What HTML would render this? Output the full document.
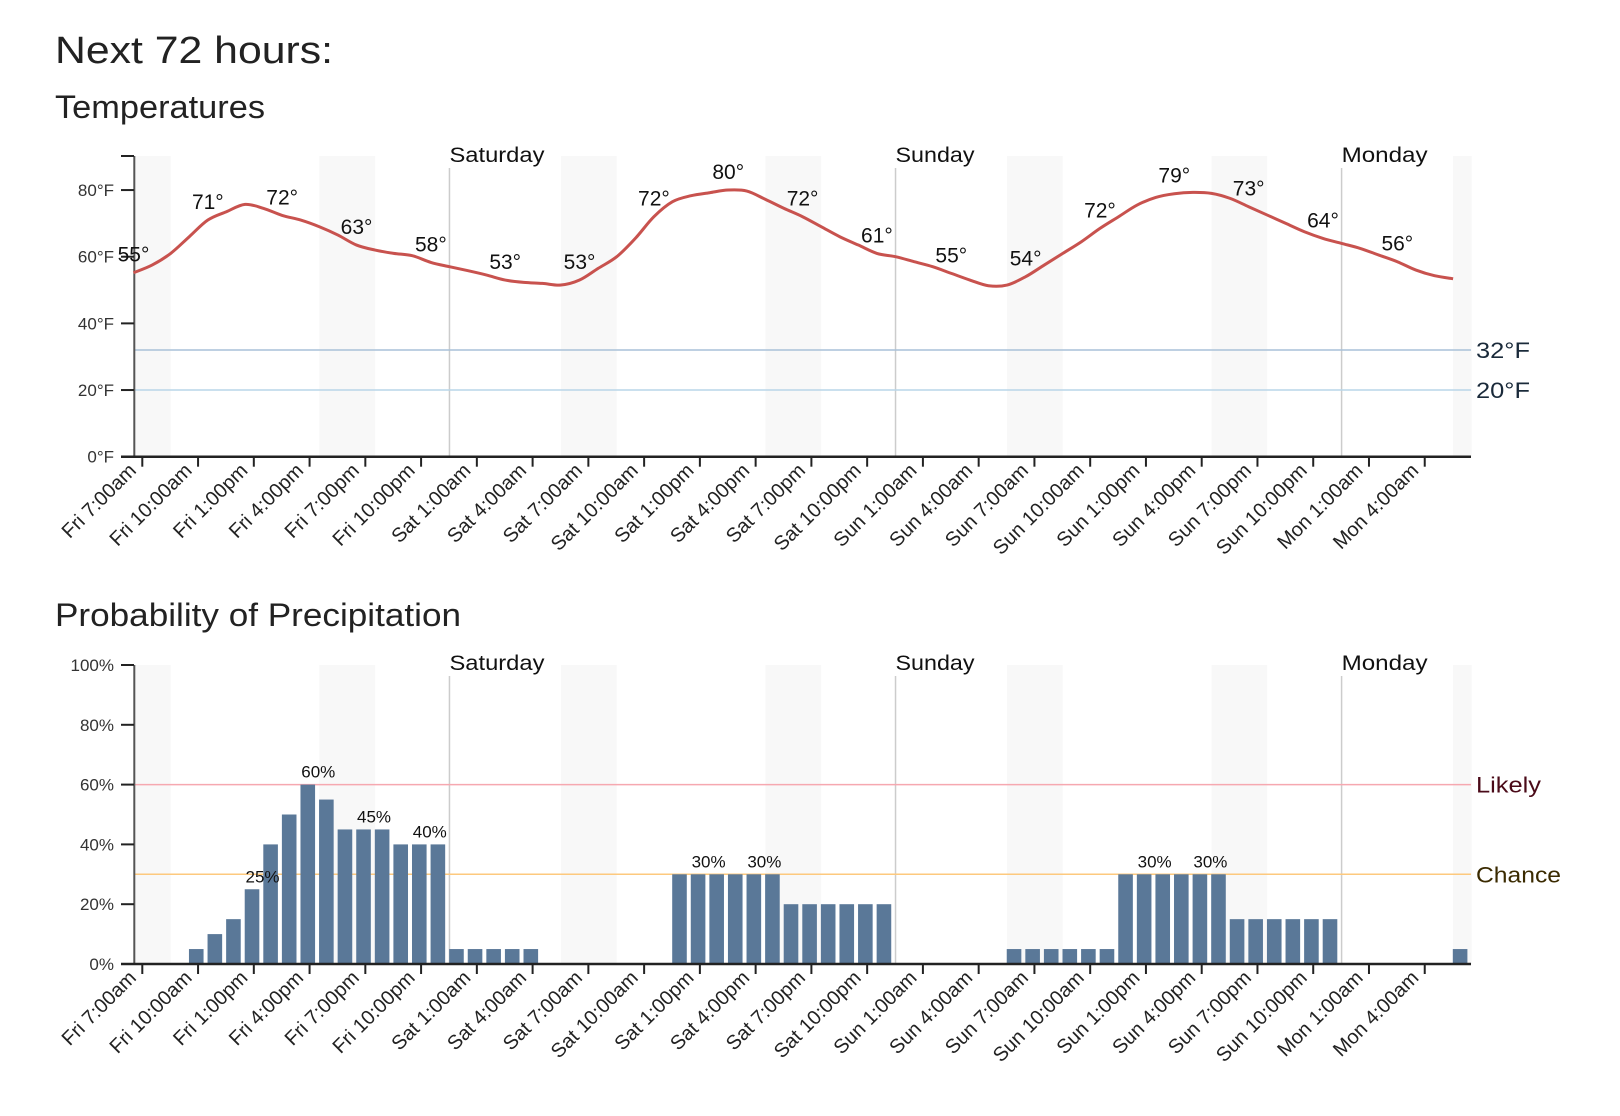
<!DOCTYPE html>
<html><head><meta charset="utf-8"><style>
body{margin:0;background:#fff;}
svg{display:block;font-family:"Liberation Sans",sans-serif;}
</style></head><body>
<svg id="s" width="1620" height="1116" xmlns="http://www.w3.org/2000/svg">
<text x="55" y="63" font-size="38" fill="#222" textLength="278" lengthAdjust="spacingAndGlyphs">Next 72 hours:</text>
<text x="55" y="118" font-size="32" fill="#222" textLength="210" lengthAdjust="spacingAndGlyphs">Temperatures</text>
<text x="55" y="626" font-size="32" fill="#222" textLength="406" lengthAdjust="spacingAndGlyphs">Probability of Precipitation</text>
</svg>
<script>
var s=document.getElementById('s'),NS='http://www.w3.org/2000/svg';
function el(t,a,txt){var e=document.createElementNS(NS,t);for(var k in a)e.setAttribute(k,a[k]);if(txt!==undefined)e.textContent=txt;s.appendChild(e);return e;}
var X0=133.5,W=18.586;
function sx(k){return X0+W*k;}
var bands=[[0,2],[10,13],[23,26],[34,37],[47,50],[58,61],[71,72]];
var mids=[[17,'Saturday',95],[41,'Sunday',79],[65,'Monday',86]];
var ticks=['Fri 7:00am','Fri 10:00am','Fri 1:00pm','Fri 4:00pm','Fri 7:00pm','Fri 10:00pm','Sat 1:00am','Sat 4:00am','Sat 7:00am','Sat 10:00am','Sat 1:00pm','Sat 4:00pm','Sat 7:00pm','Sat 10:00pm','Sun 1:00am','Sun 4:00am','Sun 7:00am','Sun 10:00am','Sun 1:00pm','Sun 4:00pm','Sun 7:00pm','Sun 10:00pm','Mon 1:00am','Mon 4:00am'];
function frame(top,bot,dayY,lineTop){
  bands.forEach(function(b){el('rect',{x:sx(b[0]),y:top,width:(b[1]-b[0])*W,height:bot-top,fill:'#f8f8f8'});});
  mids.forEach(function(m){el('line',{x1:sx(m[0]),x2:sx(m[0]),y1:lineTop,y2:bot,stroke:'#ccc','stroke-width':1.5});
    el('text',{x:sx(m[0]),y:dayY,'font-size':21,fill:'#111',textLength:m[2],lengthAdjust:'spacingAndGlyphs'},m[1]);});
}
function axes(top,bot){
  el('line',{x1:134.3,x2:134.3,y1:top,y2:bot,stroke:'#555','stroke-width':2});
  el('line',{x1:121,x2:1471,y1:bot,y2:bot,stroke:'#222','stroke-width':2.5});
  ticks.forEach(function(t,i){var x=142.3+W*3*i;
    el('line',{x1:x,x2:x,y1:bot,y2:bot+10,stroke:'#222','stroke-width':2});
    el('text',{x:x-5,y:bot+15,'font-size':20,fill:'#222','text-anchor':'end',transform:'rotate(-45 '+(x-5)+' '+(bot+15)+')'},t);});
}
var TB=456.7,TS=3.333;function ty(T){return TB-TS*T;}
frame(156,TB,162,168);
el('line',{x1:134,x2:1471,y1:ty(32),y2:ty(32),stroke:'#a9c1d8','stroke-width':1.5});
el('line',{x1:134,x2:1471,y1:ty(20),y2:ty(20),stroke:'#b9d6e8','stroke-width':1.5});
el('text',{x:1476,y:ty(32)+8,'font-size':22,fill:'#1a2a3a',textLength:54,lengthAdjust:'spacingAndGlyphs'},'32°F');
el('text',{x:1476,y:ty(20)+8,'font-size':22,fill:'#1a2a3a',textLength:54,lengthAdjust:'spacingAndGlyphs'},'20°F');
axes(156,TB);
[0,20,40,60,80].forEach(function(v){var y=ty(v);el('line',{x1:121,x2:134,y1:y,y2:y,stroke:'#222','stroke-width':2});
  el('text',{x:114,y:y+6,'font-size':17,fill:'#333','text-anchor':'end'},v+'°F');});
el('line',{x1:121,x2:134,y1:156,y2:156,stroke:'#222','stroke-width':2});
var T=[55.2,57.5,61,66,71,73.5,75.7,74.5,72.4,71,69,66.5,63.5,62,61,60.3,58.3,57,55.8,54.5,53,52.3,52,51.5,53,56.5,60,65.5,72,76.5,78.3,79.2,80,79.7,77.2,74.5,72,69,66,63.5,61,60,58.5,57,55,53,51.3,51.5,54,57.5,61,64.5,68.5,72,75.5,77.8,78.9,79.3,79,77.5,75,72.5,70,67.5,65.5,64,62.5,60.5,58.5,56,54.3,53.4];
var P=T.map(function(v,k){return [sx(k),ty(v)];});
var d='M'+P[0][0]+','+P[0][1];
for(var i=0;i<P.length-1;i++){var p0=P[Math.max(i-1,0)],p1=P[i],p2=P[i+1],p3=P[Math.min(i+2,P.length-1)];
  d+=' C'+(p1[0]+(p2[0]-p0[0])/6)+','+(p1[1]+(p2[1]-p0[1])/6)+' '+(p2[0]-(p3[0]-p1[0])/6)+','+(p2[1]-(p3[1]-p1[1])/6)+' '+p2[0]+','+p2[1];}
el('path',{d:d,fill:'none',stroke:'#c8524e','stroke-width':3});
var lab=[55,71,72,63,58,53,53,72,80,72,61,55,54,72,79,73,64,56];
lab.forEach(function(v,m){var k=m*4;el('text',{x:sx(k),y:ty(T[k])-11,'font-size':21,fill:'#111','text-anchor':'middle'},v+'°');});
var PB=964,PS=2.99;function py(v){return PB-PS*v;}
frame(665,PB,670,676);
el('line',{x1:134,x2:1471,y1:py(60),y2:py(60),stroke:'#f6a8b0','stroke-width':1.5});
el('line',{x1:134,x2:1471,y1:py(30),y2:py(30),stroke:'#fdc97e','stroke-width':1.5});
el('text',{x:1476,y:py(60)+8,'font-size':22,fill:'#4a0a18',textLength:65,lengthAdjust:'spacingAndGlyphs'},'Likely');
el('text',{x:1476,y:py(30)+8,'font-size':22,fill:'#3a2a00',textLength:85,lengthAdjust:'spacingAndGlyphs'},'Chance');
var B=[0,0,0,5,10,15,25,40,50,60,55,45,45,45,40,40,40,5,5,5,5,5,0,0,0,0,0,0,0,30,30,30,30,30,30,20,20,20,20,20,20,0,0,0,0,0,0,5,5,5,5,5,5,30,30,30,30,30,30,15,15,15,15,15,15,0,0,0,0,0,0,5];
B.forEach(function(v,k){if(v>0)el('rect',{x:sx(k)-0.3,y:py(v),width:14.6,height:PS*v,fill:'#5a7898'});});
[[6,25],[9,60],[12,45],[15,40],[30,30],[33,30],[54,30],[57,30]].forEach(function(a){
  el('text',{x:sx(a[0])+17.5,y:py(B[a[0]])-7,'font-size':17,fill:'#111','text-anchor':'middle'},a[1]+'%');});
axes(665,PB);
[0,20,40,60,80,100].forEach(function(v){var y=py(v);el('line',{x1:121,x2:134,y1:y,y2:y,stroke:'#222','stroke-width':2});
  el('text',{x:114,y:y+6,'font-size':17,fill:'#333','text-anchor':'end'},v+'%');});
</script>
</body></html>
